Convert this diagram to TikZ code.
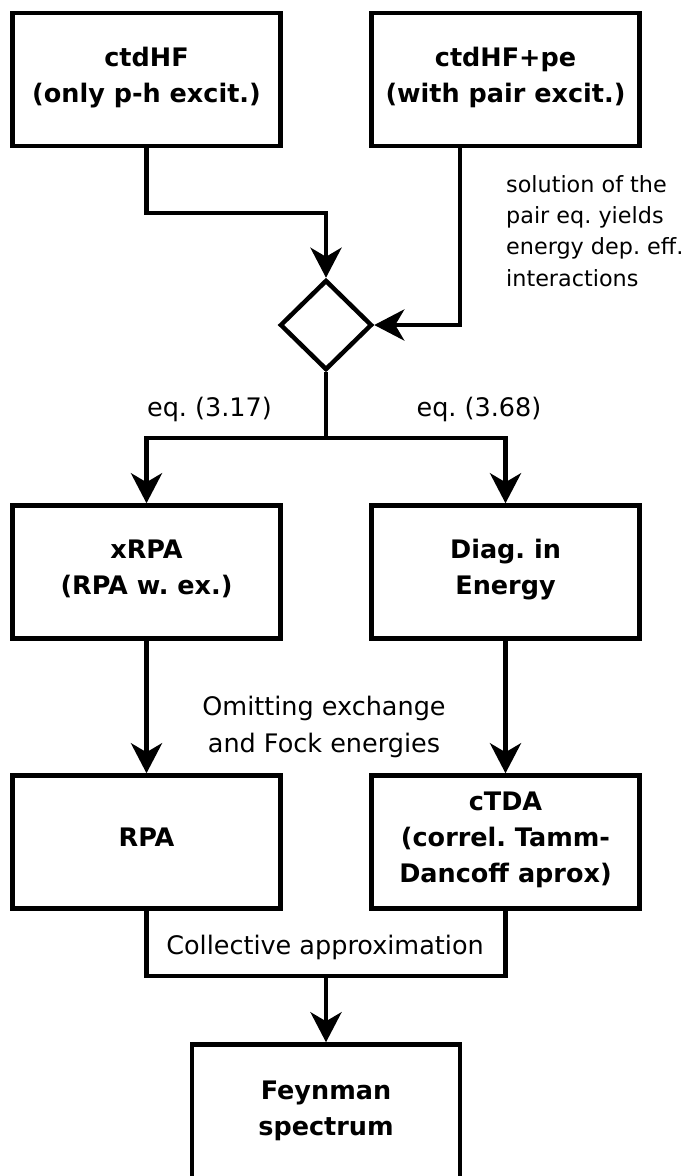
\documentclass[tikz,border=0pt]{standalone}
\usepackage{fontspec}
\setmainfont{DejaVu Sans}
\usetikzlibrary{arrows.meta,shapes.geometric}
\frenchspacing
\begin{document}
\begin{tikzpicture}[x=1pt,y=-1pt,
  box/.style={draw, line width=4.5pt, minimum width=268pt, minimum height=133pt,
    inner sep=0pt, align=center, text depth=10pt, font=\fontsize{25.5}{36}\selectfont\bfseries},
  dia/.style={draw, diamond, line width=4.5pt, minimum width=92pt, minimum height=90pt, inner sep=0pt},
  conn/.style={line width=4.5pt},
  arr/.style={conn, -{Stealth[length=30pt,width=31pt,inset=9pt]}},
  lbl/.style={inner sep=0pt, font=\fontsize{25.5}{36.5}\selectfont},
  note/.style={inner sep=0pt, align=left, font=\fontsize{22.3}{31.4}\selectfont}]
\useasboundingbox (0,0) rectangle (689,1176);
\clip (0,0) rectangle (689,1176);
% boxes
\node[box] (hf) at (146.5,79.5) {ctdHF\\(only p-h excit.)};
\node[box] (hfpe) at (505.5,79.5) {ctdHF+pe\\(with pair excit.)};
\node[dia] (d) at (326,325) {};
\node[box] (xrpa) at (146.5,572) {xRPA\\(RPA w. ex.)};
\node[box] (diag) at (505.5,572) {Diag. in\\Energy};
\node[box] (rpa) at (146.5,842) {RPA};
\node[box] (ctda) at (505.5,842) {cTDA\\(correl. Tamm-\\Dancoff aprox)};
\node[box, minimum height=137pt] (feyn) at (326,1113) {Feynman\\spectrum};
% junction points
\coordinate (j1) at (326,213);
\coordinate (j2) at (460,325);
\coordinate (j3) at (326,438);
\coordinate (j4) at (326,976);
% connectors
\draw[arr] (hf.south) |- (j1) -- (d.north);
\draw[arr] (hfpe.south -| j2) -- (j2) -- (d.east);
\draw[conn] (d.south) -- (j3);
\draw[arr] (j3) -| (xrpa.north);
\draw[arr] (j3) -| (diag.north);
\draw[arr] (xrpa.south) -- (rpa.north);
\draw[arr] (diag.south) -- (ctda.north);
\draw[conn] (rpa.south) |- (j4) -| (ctda.south);
\draw[arr] (j4) -- (feyn.north);
% labels
\node[note, anchor=north west] (sn) at (506,175) {solution of the\\pair eq. yields\\energy dep. eff.\\interactions};
\node[lbl, anchor=base] (eqa) at (209.5,416) {eq. (3.17)};
\node[lbl, anchor=base] (eqb) at (479,416) {eq. (3.68)};
\node[lbl, align=center, anchor=north] (om) at (324,696) {Omitting exchange\\and Fock energies};
\node[lbl, anchor=base] (coll) at (325,954) {Collective approximation};
\end{tikzpicture}
\end{document}
